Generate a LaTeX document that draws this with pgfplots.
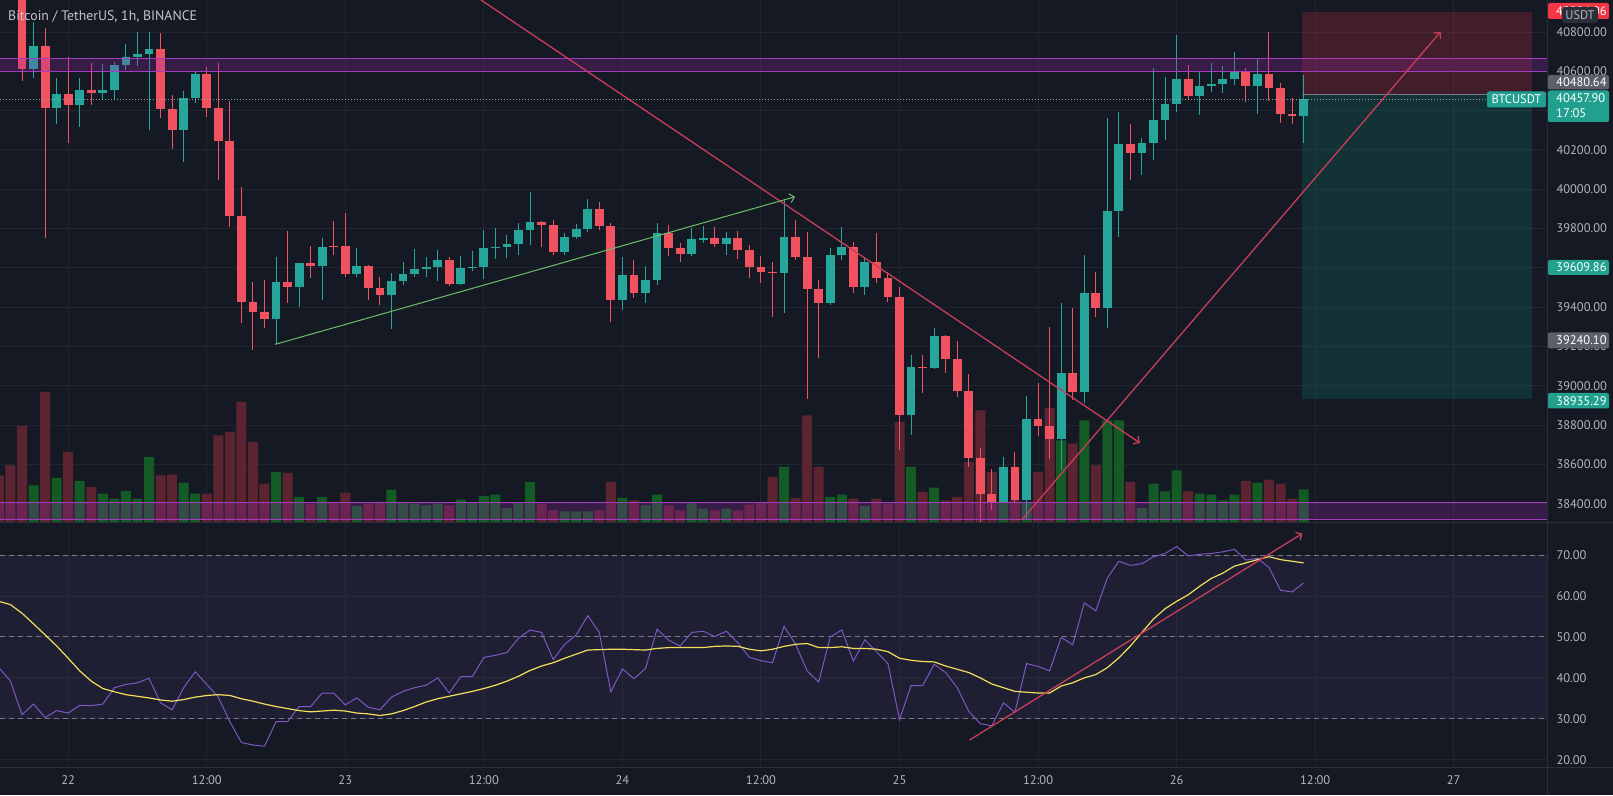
\documentclass[border=0pt]{standalone}
\usepackage{fontspec}
\setmainfont{PT Sans}
\usepackage{pgfplots}
\usepackage{pgfplotstable}
\pgfplotsset{compat=1.18}
\usetikzlibrary{arrows.meta}

\definecolor{bg}{HTML}{151924}
\definecolor{gridc}{HTML}{21252F}
\definecolor{txt}{HTML}{B2B5BE}
\definecolor{titlec}{HTML}{C3C6CE}
\definecolor{up}{HTML}{26A69A}
\definecolor{dn}{HTML}{F0525F}
\definecolor{volup}{HTML}{135A25}
\definecolor{voldn}{HTML}{5C2430}
\definecolor{band}{HTML}{9C27B0}
\definecolor{bandline}{HTML}{A43CC0}
\definecolor{trendred}{HTML}{C83E5A}
\definecolor{trendgreen}{HTML}{6ABF69}
\definecolor{rsic}{HTML}{7E57C2}
\definecolor{rsima}{HTML}{F2DE5A}
\definecolor{sepc}{HTML}{2A2E39}
\definecolor{dashc}{HTML}{787B86}
\definecolor{lblgray}{HTML}{5D606B}
\definecolor{lblteal}{HTML}{22A08F}
\definecolor{lblred}{HTML}{F23645}
\definecolor{posred}{HTML}{F23645}
\definecolor{posgreen}{HTML}{089981}
\definecolor{pricedot}{HTML}{8FA7A9}

\newcommand{\lbl}{\fontsize{12.5}{14}\selectfont}

% hourly candles, t = hours after 22 00:00
\pgfplotstableread{
t o h l c u
-4 41050 41120 40551 40611 0
-3 40611 40853 40565 40729 1
-2 40729 40819 39751 40412 0
-1 40412 40565 40333 40485 1
0 40485 40672 40237 40427 0
1 40427 40568 40319 40506 1
2 40506 40645 40429 40489 0
3 40489 40638 40455 40506 1
4 40506 40650 40458 40633 1
5 40633 40740 40607 40672 1
6 40672 40802 40628 40687 1
7 40687 40799 40302 40714 1
8 40714 40794 40361 40407 0
9 40407 40480 40204 40302 0
10 40302 40502 40141 40466 1
11 40466 40602 40438 40587 1
12 40587 40624 40366 40412 0
13 40412 40645 40047 40246 0
14 40246 40450 39810 39864 0
15 39864 40014 39318 39428 0
16 39428 39530 39182 39377 0
17 39377 39539 39293 39338 0
18 39338 39657 39211 39530 1
19 39530 39788 39420 39501 0
20 39501 39625 39403 39623 1
21 39623 39712 39547 39612 0
22 39612 39751 39437 39708 1
23 39712 39841 39666 39706 0
24 39712 39878 39556 39567 0
25 39567 39700 39556 39612 1
26 39612 39615 39437 39496 0
27 39496 39556 39411 39462 0
28 39462 39572 39288 39535 1
29 39535 39632 39513 39569 1
30 39569 39695 39552 39593 1
31 39593 39657 39556 39606 1
32 39606 39691 39535 39640 1
33 39640 39657 39508 39518 0
34 39518 39662 39515 39601 1
35 39601 39688 39586 39606 1
36 39606 39793 39542 39700 1
37 39700 39802 39644 39708 1
38 39708 39768 39649 39720 1
39 39720 39827 39666 39793 1
40 39793 39988 39717 39835 1
41 39835 39838 39708 39817 0
42 39817 39844 39666 39683 0
43 39683 39776 39666 39756 1
44 39756 39824 39746 39800 1
45 39800 39949 39785 39898 1
46 39898 39937 39793 39813 0
47 39813 39830 39327 39437 0
48 39437 39657 39386 39564 1
49 39564 39640 39445 39474 0
50 39474 39610 39423 39539 1
51 39539 39830 39513 39776 1
52 39776 39818 39661 39703 0
53 39703 39725 39632 39669 0
54 39669 39802 39660 39746 1
55 39746 39813 39729 39751 1
56 39751 39810 39708 39722 0
57 39722 39785 39666 39751 1
58 39751 39790 39644 39691 0
59 39691 39717 39547 39606 0
60 39606 39661 39525 39581 0
61 39581 39632 39352 39576 0
62 39576 39949 39369 39756 1
63 39756 39844 39640 39657 0
64 39657 39785 38931 39491 0
65 39491 39539 39140 39420 0
66 39420 39700 39411 39664 1
67 39664 39810 39640 39705 1
68 39705 39734 39471 39501 0
69 39501 39649 39462 39632 1
70 39632 39776 39522 39547 0
71 39547 39581 39428 39450 0
72 39450 39505 38673 38852 0
73 38852 39157 38750 39098 1
74 39098 39157 38962 39089 0
75 39089 39296 39085 39255 1
76 39255 39258 39064 39135 0
77 39135 39230 38945 38974 0
78 38974 39060 38589 38631 0
79 38631 38682 38309 38448 0
80 38448 38575 38368 38410 0
81 38410 38640 38405 38588 1
82 38588 38665 38402 38419 0
83 38419 38948 38317 38831 1
84 38831 39016 38745 38796 0
85 38796 39301 38626 38729 0
86 38729 39423 38572 39064 1
87 39064 39394 38928 38970 0
88 38970 39666 38911 39474 1
89 39474 39581 39352 39394 0
90 39394 40361 39293 39890 1
91 39890 40395 39759 40229 1
92 40229 40332 40047 40183 0
93 40183 40260 40073 40234 1
94 40234 40616 40149 40353 1
95 40353 40573 40251 40433 1
96 40433 40785 40395 40560 1
97 40560 40633 40455 40477 0
98 40477 40599 40378 40528 1
99 40528 40645 40497 40536 1
100 40536 40628 40492 40562 1
101 40562 40701 40531 40595 1
102 40595 40616 40446 40526 0
103 40526 40667 40383 40587 1
104 40587 40802 40451 40514 0
105 40514 40539 40336 40383 0
106 40383 40463 40332 40373 0
107 40373 40582 40237 40458 1
}\candles

\pgfplotstableread{
t v u
-6 46.7 0
-5 56.7 0
-4 96 0
-3 36.7 1
-2 130 0
-1 44 1
0 70 0
1 41 1
2 35 0
3 28.3 1
4 23.3 1
5 31 1
6 23.3 1
7 65 1
8 46.7 0
9 47.3 0
10 39.3 1
11 28.3 1
12 28.3 0
13 86.7 0
14 90 0
15 120 0
16 80 0
17 38.3 0
18 50 1
19 49 0
20 25 1
21 18.3 0
22 25 1
23 20 0
24 29.3 0
25 16 1
26 18.3 0
27 19 0
28 32.3 1
29 20 1
30 18.3 1
31 16.7 1
32 18.3 1
33 16.7 0
34 22.3 1
35 19 1
36 26 1
37 27.3 1
38 14 1
39 19 1
40 40 1
41 18.3 0
42 11.7 0
43 10.7 1
44 10.7 1
45 10.7 1
46 11.7 0
47 40 0
48 24 1
49 21.7 0
50 16.7 1
51 27.3 1
52 16.7 0
53 11.7 0
54 19.3 1
55 13.3 1
56 11.7 0
57 13.3 1
58 11.7 0
59 17.3 0
60 19.3 0
61 45 0
62 55 1
63 24 0
64 106.7 0
65 55 0
66 25 1
67 27.3 1
68 23.3 0
69 16 1
70 23.3 0
71 18.3 0
72 100 0
73 55 1
74 30 0
75 34.3 1
76 21.7 0
77 25 0
78 60 0
79 111.7 0
80 50 0
81 20 1
82 21.7 0
83 20 1
84 50 0
85 114 0
86 81.7 1
87 78.3 0
88 101.7 1
89 56.7 0
90 101.7 1
91 101.7 1
92 40 0
93 14 1
94 38.3 1
95 30.7 1
96 51.7 1
97 30.7 0
98 28.3 1
99 27.3 1
100 21.7 1
101 27.3 1
102 41 0
103 39.3 1
104 42.3 0
105 38.3 0
106 23.3 0
107 32.7 1
}\volumes

\pgfplotstableread{
t rsi ma
-6 42.5 58.7
-5 39.2 57.9
-4 31.0 55.8
-3 33.6 53.2
-2 30.3 50.5
-1 32.0 47.8
0 31.4 44.8
1 33.3 41.7
2 33.2 39.2
3 33.6 37.4
4 37.6 36.6
5 38.4 35.9
6 38.8 35.5
7 39.9 35.1
8 33.9 34.6
9 32.2 34.3
10 37.6 34.7
11 41.5 35.3
12 38.4 35.7
13 35.3 35.9
14 29.3 35.7
15 24.2 34.9
16 23.6 34.3
17 23.3 33.6
18 29.3 33.0
19 29.3 32.5
20 33.0 32.0
21 33.0 31.7
22 36.3 31.9
23 36.3 32.1
24 33.4 31.9
25 35.1 31.4
26 32.8 31.2
27 32.2 30.8
28 35.3 31.2
29 36.7 32.0
30 37.6 33.0
31 38.2 34.1
32 40.0 34.9
33 36.3 35.5
34 40.3 36.1
35 40.3 36.7
36 45.0 37.4
37 45.5 38.2
38 46.2 39.2
39 49.7 40.4
40 51.7 41.8
41 51.1 42.9
42 44.5 43.7
43 48.2 44.8
44 50.5 45.8
45 55.2 46.8
46 51.1 46.9
47 36.6 47.0
48 42.2 47.0
49 39.8 46.9
50 42.3 46.8
51 51.9 47.2
52 49.2 47.4
53 47.8 47.4
54 51.1 47.4
55 51.4 47.4
56 50.1 47.7
57 51.4 47.8
58 48.6 47.7
59 45.0 47.0
60 44.2 46.6
61 43.7 47.0
62 52.6 47.7
63 48.2 48.2
64 41.7 48.4
65 39.0 47.4
66 50.0 47.4
67 51.7 47.6
68 44.1 47.2
69 49.3 47.2
70 46.4 47.0
71 43.5 46.4
72 29.8 44.8
73 38.1 44.3
74 38.1 44.0
75 43.3 43.9
76 41.3 42.9
77 37.6 42.1
78 31.8 41.3
79 28.8 40.0
80 28.3 38.5
81 33.9 37.6
82 31.6 36.7
83 43.5 36.5
84 42.8 36.3
85 41.7 36.3
86 49.9 38.0
87 48.1 38.8
88 58.3 40.0
89 56.4 40.8
90 64.4 42.5
91 68.5 44.9
92 67.5 47.8
93 67.9 51.1
94 69.6 54.4
95 70.4 56.9
96 72.1 58.7
97 69.8 60.3
98 70.2 62.4
99 70.4 64.3
100 70.8 65.6
101 71.4 67.3
102 68.8 68.1
103 69.2 68.9
104 67.0 69.6
105 61.4 68.9
106 61.0 68.5
107 63.2 68.1
}\rsidata

\begin{document}
\begin{tikzpicture}
\fill[bg] (0pt,0pt) rectangle (1613pt,795pt);

% ---------- price pane: grid and price scale ----------
\begin{axis}[at={(0pt,273pt)}, anchor=south west,
  width=1547pt, height=522pt, scale only axis,
  xmin=-5.907, xmax=128.08, ymin=38306.9, ymax=40963.4,
  axis line style={draw=none}, tick style={draw=none},
  xtick={0,12,...,120}, xticklabels={},
  ytick={38400,38600,...,40800},
  yticklabels={38400.00,38600.00,38800.00,39000.00,39200.00,39400.00,39600.00,39800.00,40000.00,40200.00,40400.00,40600.00,40800.00},
  yticklabel pos=right,
  yticklabel style={font=\lbl, text=txt, anchor=west, xshift=6pt},
  grid=major, major grid style={draw=gridc, line width=1pt},
]
\end{axis}

% ---------- volume ----------
\begin{axis}[at={(0pt,273pt)}, anchor=south west,
  width=1547pt, height=522pt, scale only axis, hide axis,
  xmin=-5.907, xmax=128.08, ymin=0, ymax=522]
\addplot[ybar, bar width=10pt, bar shift=0pt, fill=volup, draw=none,
  restrict expr to domain={\thisrow{u}}{0.5:1.5}] table[x=t, y=v] {\volumes};
\addplot[ybar, bar width=10pt, bar shift=0pt, fill=voldn, draw=none,
  restrict expr to domain={\thisrow{u}}{-0.5:0.5}] table[x=t, y=v] {\volumes};
\end{axis}

% ---------- candles and drawings ----------
\begin{axis}[at={(0pt,273pt)}, anchor=south west,
  width=1547pt, height=522pt, scale only axis, hide axis,
  xmin=-5.907, xmax=128.08, ymin=38306.9, ymax=40963.4]
% position tool (short)
\fill[posred, fill opacity=0.2] (axis cs:106.87,40480.64) rectangle (axis cs:126.8,40904.06);
\fill[posgreen, fill opacity=0.2] (axis cs:106.87,38935.29) rectangle (axis cs:126.8,40480.64);
% wicks
\addplot[draw=none, restrict expr to domain={\thisrow{u}}{0.5:1.5},
  error bars/.cd, y dir=both, y explicit, error mark=none,
  error bar style={draw=up, solid, line width=1pt}]
  table[x=t, y expr={0.5*(\thisrow{h}+\thisrow{l})},
    y error plus expr={0.5*(\thisrow{h}-\thisrow{l})},
    y error minus expr={0.5*(\thisrow{h}-\thisrow{l})}] {\candles};
\addplot[draw=none, restrict expr to domain={\thisrow{u}}{-0.5:0.5},
  error bars/.cd, y dir=both, y explicit, error mark=none,
  error bar style={draw=dn, solid, line width=1pt}]
  table[x=t, y expr={0.5*(\thisrow{h}+\thisrow{l})},
    y error plus expr={0.5*(\thisrow{h}-\thisrow{l})},
    y error minus expr={0.5*(\thisrow{h}-\thisrow{l})}] {\candles};
% bodies
\addplot[draw=none, restrict expr to domain={\thisrow{u}}{0.5:1.5},
  error bars/.cd, y dir=both, y explicit, error mark=none,
  error bar style={draw=up, solid, line width=8.8pt}]
  table[x=t, y expr={0.5*(\thisrow{o}+\thisrow{c})},
    y error plus expr={max(0.5*abs(\thisrow{c}-\thisrow{o}),2.6)},
    y error minus expr={max(0.5*abs(\thisrow{c}-\thisrow{o}),2.6)}] {\candles};
\addplot[draw=none, restrict expr to domain={\thisrow{u}}{-0.5:0.5},
  error bars/.cd, y dir=both, y explicit, error mark=none,
  error bar style={draw=dn, solid, line width=8.8pt}]
  table[x=t, y expr={0.5*(\thisrow{o}+\thisrow{c})},
    y error plus expr={max(0.5*abs(\thisrow{c}-\thisrow{o}),2.6)},
    y error minus expr={max(0.5*abs(\thisrow{c}-\thisrow{o}),2.6)}] {\candles};
% zones
\fill[band, fill opacity=0.25] (axis cs:-5.907,40598) rectangle (axis cs:128.08,40667);
\draw[bandline, line width=1pt] (axis cs:-5.907,40598) -- (axis cs:128.08,40598);
\draw[bandline, line width=1pt] (axis cs:-5.907,40667) -- (axis cs:128.08,40667);
\fill[band, fill opacity=0.25] (axis cs:-5.907,38322) rectangle (axis cs:128.08,38405);
\draw[bandline, line width=1pt] (axis cs:-5.907,38322) -- (axis cs:128.08,38322);
\draw[bandline, line width=1pt] (axis cs:-5.907,38405) -- (axis cs:128.08,38405);
% price line and entry line
\draw[pricedot, line width=1pt, dash pattern=on 1pt off 2pt] (axis cs:-5.907,40457.9) -- (axis cs:128.08,40457.9);
\draw[dashc, line width=1pt] (axis cs:106.87,40480.64) -- (axis cs:126.8,40480.64);
% trend lines
\addplot[trendred, line width=1.3pt, -{Straight Barb[length=4.5pt,width=9pt]}] coordinates {(35.75,40963.4) (92.83,38709)};
\addplot[trendgreen, line width=1pt, -{Straight Barb[length=4.5pt,width=9pt]}] coordinates {(17.93,39211) (62.95,39962)};
\addplot[trendred, line width=1.3pt, -{Straight Barb[length=4.5pt,width=9pt]}] coordinates {(82.58,38317) (118.87,40802)};
\end{axis}

% ---------- RSI pane ----------
\begin{axis}[at={(0pt,28pt)}, anchor=south west,
  width=1547pt, height=244pt, scale only axis,
  xmin=-5.907, xmax=128.08, ymin=18.22, ymax=77.85,
  axis line style={draw=none}, tick style={draw=none},
  xtick={0,12,...,120},
  xticklabels={22,12:00,23,12:00,24,12:00,25,12:00,26,12:00,27},
  xticklabel style={font=\lbl, text=txt, anchor=center, yshift=-13pt},
  ytick={20,30,...,70},
  yticklabels={20.00,30.00,40.00,50.00,60.00,70.00},
  yticklabel pos=right,
  yticklabel style={font=\lbl, text=txt, anchor=west, xshift=6pt},
  grid=major, major grid style={draw=gridc, line width=1pt},
]
\fill[rsic, fill opacity=0.1] (axis cs:-5.907,30) rectangle (axis cs:128.08,70);
\draw[dashc, line width=1pt, dash pattern=on 5pt off 4pt] (axis cs:-5.907,70) -- (axis cs:128.08,70);
\draw[dashc, line width=1pt, dash pattern=on 5pt off 4pt] (axis cs:-5.907,50) -- (axis cs:128.08,50);
\draw[dashc, line width=1pt, dash pattern=on 5pt off 4pt] (axis cs:-5.907,30) -- (axis cs:128.08,30);
\addplot[rsic, line width=1pt] table[x=t, y=rsi] {\rsidata};
\addplot[rsima, line width=1.2pt] table[x=t, y=ma] {\rsidata};
\addplot[trendred, line width=1.3pt, -{Straight Barb[length=4.5pt,width=9pt]}] coordinates {(78.06,24.8) (106.9,75.3)};
\end{axis}

% ---------- separators, labels (image pixel coordinates) ----------
\begin{scope}[x=1pt, y=-1pt, shift={(0pt,795pt)}]
\draw[sepc, line width=1pt] (0,523) -- (1613,523);
\draw[sepc, line width=1pt] (0,767) -- (1613,767);
\draw[sepc, line width=1pt] (1547.5,0) -- (1547.5,795);
% price scale labels
\fill[lblred, rounded corners=2pt] (1548,3) rectangle (1609,19);
\node[anchor=west, font=\lbl, text=white, inner sep=0pt] at (1556,11) {40904.06};
\fill[sepc, rounded corners=3pt] (1562,7) rectangle (1598,23);
\node[font=\lbl, text=txt, inner sep=0pt] at (1580,15) {USDT};
\fill[lblgray, rounded corners=2pt] (1548,75) rectangle (1609,89.5);
\node[anchor=west, font=\lbl, text=white, inner sep=0pt] at (1556,82.3) {40480.64};
\fill[lblteal, rounded corners=2pt] (1548,90.5) rectangle (1609,122);
\node[anchor=west, font=\lbl, text=white, inner sep=0pt] at (1556,98.5) {40457.90};
\node[anchor=west, font=\lbl, text=white, inner sep=0pt] at (1556,113.5) {17:05};
\fill[lblteal, rounded corners=2pt] (1487,91.5) rectangle (1546,107.5);
\node[font=\lbl, text=white, inner sep=0pt] at (1516.5,99.5) {BTCUSDT};
\fill[lblteal, rounded corners=2pt] (1548,260) rectangle (1609,275);
\node[anchor=west, font=\lbl, text=white, inner sep=0pt] at (1556,267.5) {39609.86};
\fill[lblgray, rounded corners=2pt] (1548,332.5) rectangle (1609,348.5);
\node[anchor=west, font=\lbl, text=white, inner sep=0pt] at (1556,340.5) {39240.10};
\fill[lblteal, rounded corners=2pt] (1548,393) rectangle (1609,408.5);
\node[anchor=west, font=\lbl, text=white, inner sep=0pt] at (1556,400.8) {38935.29};
% title
\node[anchor=west, font=\fontsize{13.8}{16}\selectfont, text=titlec, inner sep=0pt] at (8,16.5) {Bitcoin / TetherUS, 1h, BINANCE};
\end{scope}

\pgfresetboundingbox
\useasboundingbox (0pt,0pt) rectangle (1613pt,795pt);
\end{tikzpicture}
\end{document}
